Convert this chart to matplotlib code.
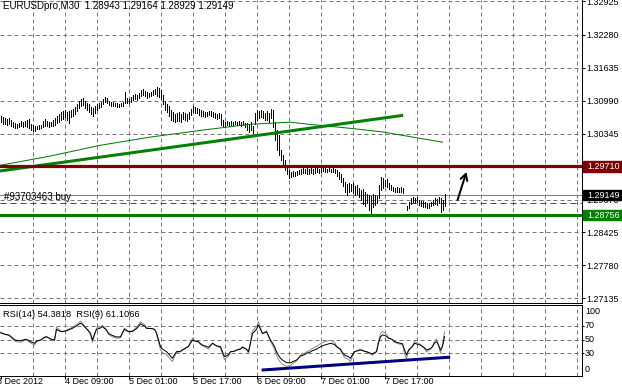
import numpy as np
import matplotlib

matplotlib.use('Agg')  # no display
import matplotlib.pyplot as plt
import matplotlib.transforms as mtransforms
from matplotlib.patches import Rectangle

plt.rcParams['font.family'] = ['Liberation Sans', 'DejaVu Sans']

# ---- values (M30 bars, bar 0 = left edge) ----
nan = np.nan
bar_high = [
    1.3069, 1.3067, 1.3065, 1.3063, 1.3065, 1.3061, 1.3057, 1.3055, 1.3053, 1.3055, 1.3059, 1.3057, 1.3059, 1.3061, 1.3063, 1.3053,
    1.3051, 1.3049, 1.3049, 1.3051, 1.3051, 1.3059, 1.3063, 1.3059, 1.3057, 1.3057, 1.3061, 1.3065, 1.3069, 1.3073, 1.3077, 1.3079,
    1.3080, 1.3077, 1.3079, 1.3080, 1.3082, 1.3086, 1.3092, 1.3098, 1.3102, 1.3104, 1.3098, 1.3094, 1.3092, 1.3086, 1.3084, 1.3088,
    1.3092, 1.3094, 1.3096, 1.3102, 1.3106, 1.3104, 1.3098, 1.3096, 1.3096, 1.3094, 1.3094, 1.3092, 1.3094, 1.3096, 1.3116, 1.3104,
    1.3102, 1.3106, 1.3110, 1.3112, 1.3110, 1.3114, 1.3119, 1.3121, 1.3118, 1.3116, 1.3114, 1.3116, 1.3119, 1.3121, 1.3125, 1.3123,
    1.3119, 1.3110, 1.3098, 1.3092, 1.3088, 1.3080, 1.3077, 1.3073, 1.3075, 1.3077, 1.3073, 1.3077, 1.3075, 1.3073, 1.3077, 1.3082,
    1.3088, 1.3086, 1.3084, 1.3082, 1.3080, 1.3079, 1.3077, 1.3077, 1.3079, 1.3079, 1.3077, 1.3075, 1.3073, 1.3075, 1.3073, 1.3061,
    1.3057, 1.3059, 1.3057, 1.3059, 1.3057, 1.3059, 1.3057, 1.3059, 1.3057, 1.3059, 1.3055, 1.3055, 1.3053, 1.3057, 1.3049, 1.3075,
    1.3080, 1.3079, 1.3080, 1.3079, 1.3075, 1.3079, 1.3075, 1.3082, 1.3080, 1.3057, 1.3042, 1.3032, 1.3003, 1.2993, 1.2983, 1.2971,
    1.2964, 1.2960, 1.2962, 1.2960, 1.2962, 1.2964, 1.2966, 1.2968, 1.2966, 1.2968, 1.2966, 1.2968, 1.2966, 1.2968, 1.2968, 1.2966,
    1.2968, 1.2968, 1.2968, 1.2966, 1.2968, 1.2966, 1.2968, 1.2966, 1.2964, 1.2960, 1.2956, 1.2948, 1.2940, 1.2936, 1.2938, 1.2936,
    1.2938, 1.2932, 1.2934, 1.2928, 1.2925, 1.2927, 1.2921, 1.2917, 1.2915, 1.2913, 1.2917, 1.2915, 1.2913, 1.2934, 1.2950, 1.2948,
    1.2944, 1.2946, 1.2938, 1.2934, 1.2930, 1.2929, 1.2930, 1.2929, 1.2930, 1.2929, nan, 1.2893, 1.2901, 1.2909, 1.2911, 1.2909,
    1.2911, 1.2905, 1.2903, 1.2903, 1.2901, 1.2899, 1.2899, 1.2901, 1.2905, 1.2909, 1.2907, 1.2911, 1.2909, 1.2905, 1.29164,
]
bar_low = [
    1.3057, 1.3053, 1.3053, 1.3051, 1.3053, 1.3049, 1.3047, 1.3045, 1.3045, 1.3047, 1.3049, 1.3047, 1.3049, 1.3047, 1.3045, 1.3042,
    1.3040, 1.3040, 1.3043, 1.3043, 1.3045, 1.3047, 1.3049, 1.3049, 1.3047, 1.3049, 1.3049, 1.3051, 1.3055, 1.3057, 1.3061, 1.3063,
    1.3067, 1.3061, 1.3055, 1.3067, 1.3069, 1.3073, 1.3079, 1.3084, 1.3088, 1.3090, 1.3084, 1.3080, 1.3077, 1.3073, 1.3069, 1.3075,
    1.3080, 1.3084, 1.3086, 1.3092, 1.3096, 1.3094, 1.3090, 1.3088, 1.3088, 1.3088, 1.3086, 1.3086, 1.3088, 1.3088, 1.3094, 1.3094,
    1.3094, 1.3096, 1.3100, 1.3102, 1.3100, 1.3104, 1.3108, 1.3110, 1.3108, 1.3104, 1.3106, 1.3108, 1.3110, 1.3112, 1.3108, 1.3106,
    1.3102, 1.3092, 1.3080, 1.3077, 1.3069, 1.3061, 1.3059, 1.3057, 1.3059, 1.3059, 1.3057, 1.3063, 1.3061, 1.3059, 1.3063, 1.3071,
    1.3077, 1.3075, 1.3075, 1.3071, 1.3069, 1.3069, 1.3067, 1.3069, 1.3071, 1.3069, 1.3067, 1.3065, 1.3063, 1.3065, 1.3051, 1.3049,
    1.3049, 1.3051, 1.3049, 1.3051, 1.3051, 1.3053, 1.3051, 1.3051, 1.3049, 1.3051, 1.3047, 1.3042, 1.3038, 1.3042, 1.3036, 1.3053,
    1.3061, 1.3065, 1.3067, 1.3065, 1.3061, 1.3061, 1.3057, 1.3065, 1.3047, 1.3022, 1.3003, 1.2993, 1.2983, 1.2973, 1.2964, 1.2956,
    1.2948, 1.2950, 1.2952, 1.2952, 1.2954, 1.2956, 1.2956, 1.2958, 1.2958, 1.2956, 1.2956, 1.2958, 1.2956, 1.2958, 1.2960, 1.2958,
    1.2960, 1.2962, 1.2960, 1.2960, 1.2962, 1.2960, 1.2960, 1.2958, 1.2952, 1.2946, 1.2940, 1.2932, 1.2921, 1.2915, 1.2921, 1.2923,
    1.2919, 1.2915, 1.2917, 1.2911, 1.2905, 1.2897, 1.2893, 1.2899, 1.2886, 1.2876, 1.2891, 1.2895, 1.2899, 1.2909, 1.2925, 1.2929,
    1.2932, 1.2930, 1.2927, 1.2925, 1.2923, 1.2921, 1.2921, 1.2921, 1.2921, 1.2919, nan, 1.2886, 1.2889, 1.2897, 1.2901, 1.2899,
    1.2901, 1.2895, 1.2893, 1.2891, 1.2891, 1.2889, 1.2889, 1.2893, 1.2895, 1.2897, 1.2895, 1.2899, 1.2882, 1.2886, 1.28929,
]

# moving average (thin green) and hand-drawn objects
ma_bars = [0, 25, 50, 75, 100, 125, 145, 154, 175, 191, 206, 221]
ma_price = [1.2973, 1.2991, 1.3012, 1.3028, 1.3041, 1.3053, 1.3057, 1.3053, 1.3045, 1.3038, 1.3028, 1.3018]
trend_bars = [0, 200.6]
trend_price = [1.2962, 1.3070]
resistance = 1.29710
support = 1.28756
bid = 1.29149
order_price = 1.2899
arrow_bars = [228.1, 233.4]
arrow_price = [1.2900, 1.2965]

# RSI panel
rsi_bars = [0, 2, 4, 5, 7, 8, 10, 12, 13, 15, 17, 18, 20, 22, 23, 25, 27, 28, 30, 31, 33, 36, 38, 40, 41, 42, 44, 45,
            46, 47, 48, 50, 51, 53, 54, 56, 58, 60, 61, 62, 64, 66, 68, 70, 72, 73, 76, 77, 78, 80, 81, 83, 85, 86,
            87, 88, 90, 91, 94, 96, 97, 99, 100, 101, 103, 104, 106, 108, 110, 111, 112, 114, 115, 117, 118, 120, 121,
            123, 124, 125, 126, 128, 129, 130, 131, 132, 133, 135, 136, 137, 138, 139, 140, 141, 143, 145, 146, 148,
            150, 152, 153, 155, 156, 158, 160, 162, 165, 167, 168, 170, 171, 172, 174, 175, 176, 177, 180, 182, 183,
            185, 186, 187, 188, 189, 190, 191, 193, 194, 196, 197, 200, 201, 202, 203, 204, 206, 207, 210, 212, 213,
            215, 216, 217, 218, 219, 220, 221, 222]
rsi14 = [60, 58, 57, 55, 50, 49, 48.5, 50, 50.5, 47, 44.6, 48, 49.5, 53, 54, 51, 49.5, 65, 62, 61.6, 63, 66.6, 70, 74, 72, 69, 63, 59,
         49.5, 58, 65, 67, 69, 64, 59, 56, 54, 54, 60, 65, 61.6, 62, 66, 73, 70, 66.6, 66, 65, 60, 39.7, 36, 32.4, 26, 22.7,
         28, 32.4, 33, 34.8, 40, 49.5, 48, 47, 44, 42, 40, 38.8, 44.6, 41, 39.7, 32, 25, 28, 32.4, 33, 34.8, 36, 38.8,
         36, 32.4, 45, 59, 65, 71.5, 65, 59, 60, 61.6, 49.5, 45, 40, 32.4, 27, 22.7, 20, 16.3, 16, 17.7, 20,
         26, 28, 30, 32, 33.8, 36, 39.7, 42, 44.6, 43, 39.7, 35.9, 31, 27.5, 25, 22.7, 28, 32.4, 34.8, 33, 32.4,
         30, 29, 31, 32.4, 45, 54, 57, 55, 52, 50, 47, 44.6, 44, 35, 27.5, 34.8, 40, 44.6, 42, 38, 34.8,
         37, 39.7, 45, 47, 42, 34.8, 40, 54.38]
rsi9 = [61, 58, 56, 54, 48, 47, 46, 49, 50, 45, 42, 47, 49, 54, 55, 51, 48, 68, 63, 62, 64, 68, 72, 77, 74, 70, 62, 57,
        46, 57, 67, 69, 71, 65, 58, 54, 52, 53, 61, 67, 62, 63, 68, 76, 72, 67, 66, 65, 58, 35, 31, 28, 21, 18,
        25, 31, 32, 35, 41, 52, 49, 47, 43, 41, 38, 36, 45, 40, 38, 29, 21, 26, 32, 33, 35, 37, 40,
        36, 30, 47, 63, 69, 76, 67, 59, 61, 63, 47, 42, 36, 27, 21, 17, 14, 11, 12, 15, 19,
        27, 30, 32, 35, 37, 40, 44, 47, 49, 46, 41, 35, 29, 24, 21, 18, 26, 32, 36, 33, 32,
        29, 27, 30, 32, 48, 59, 62, 58, 53, 50, 46, 43, 43, 30, 22, 33, 41, 47, 43, 37, 32,
        36, 40, 48, 51, 42, 30, 42, 61.11]
rsi_trend_bars = [131.3, 224.1]
rsi_trend = [5.6, 24.2]

price_ticks = [1.32925, 1.32280, 1.31635, 1.30990, 1.30345, 1.29070, 1.28425, 1.27780, 1.27135]
price_grid = [1.32925, 1.32280, 1.31635, 1.30990, 1.30345, 1.29700, 1.29055, 1.28425, 1.27780, 1.27135]
rsi_levels = [70, 50, 30]
rsi_labels = ['100', '70', '50', '30', '0']
time_bars = [0, 32, 64, 96, 128, 160, 192]
time_labels = ['3 Dec 2012', '4 Dec 09:00', '5 Dec 01:00', '5 Dec 17:00',
               '6 Dec 09:00', '7 Dec 01:00', '7 Dec 17:00']
title = 'EURUSDpro,M30  1.28943 1.29164 1.28929 1.29149'
rsi_title = 'RSI(14) 54.3818  RSI(9) 61.1066'

# ---- layout in pixels, like the terminal window ----
W, H = 622, 391
PX = 0.72  # one pixel in points
FS = 6.5
GRID = dict(color='#787878', lw=PX, linestyle=(0, (4, 3)), zorder=0.5)

fig = plt.figure(figsize=(W / 100, H / 100), dpi=100)
fig.patch.set_facecolor('white')
ax = fig.add_axes([0, (H - 302.7) / H, 581.5 / W, 302.7 / H])
ar = fig.add_axes([0, (H - 375.7) / H, 581.5 / W, 70.7 / H])

xlim = (-0.25, 290.5)
ylim = (1.27048, 1.32954)
for a in (ax, ar):
    a.set_xlim(*xlim)
    a.spines['left'].set_visible(False)
    a.spines['top'].set_visible(a is ar)
    for s in ('right', 'bottom', 'top'):
        a.spines[s].set_linewidth(PX)
    for k in range(1, 19):
        a.axvline(16 * k, **GRID)
ax.set_ylim(*ylim)
ar.set_ylim(-2.8, 100.7)

# ---- price panel ----
for p in price_grid:
    ax.axhline(p, **GRID)

bars = np.arange(len(bar_high))
ax.vlines(bars, bar_low, bar_high, color='black', lw=PX, zorder=3, antialiased=False)
ax.plot(ma_bars, ma_price, color='#007800', lw=PX, zorder=4)
ax.plot(trend_bars, trend_price, color='#008000', lw=3 * PX, zorder=4)
ax.axhline(resistance, color='#800000', lw=3.2 * PX, zorder=4)
ax.axhline(support, color='#008000', lw=3 * PX, zorder=4)
ax.axhline(bid, color='#808080', lw=PX, zorder=2)
ax.axhline(order_price, color='#008000', lw=PX, linestyle=(0, (6, 4)), zorder=2)
ax.annotate('', xy=(arrow_bars[1], arrow_price[1]), xytext=(arrow_bars[0], arrow_price[0]),
            arrowprops=dict(arrowstyle='->,head_length=0.45,head_width=0.25', color='black', lw=2 * PX),
            zorder=5)
ax.text(1.5, order_price + 1.5 / 5125, '#93703463 buy', fontsize=7, va='bottom', ha='left', zorder=6)

ax.set_xticks([])
ax.yaxis.tick_right()
ax.set_yticks(price_ticks)
ax.set_yticklabels([f'{p:.5f}' for p in price_ticks])
ax.tick_params(axis='y', length=3 * PX, width=PX, pad=2 * PX, labelsize=FS)

# coloured price labels on the right scale
blend = mtransforms.blended_transform_factory(fig.transFigure, ax.transData)
ppx = 302.7 / (ylim[1] - ylim[0])


def price_box(price, color):
    h = 10.5 / ppx
    ax.add_patch(Rectangle((583.3 / W, price - h / 2), 1 - 583.3 / W, h, transform=blend,
                           color=color, clip_on=False, zorder=10))
    ax.text(587 / W, price, f'{price:.5f}', transform=blend, color='white', fontsize=FS,
            va='center', ha='left', zorder=11, clip_on=False)


price_box(resistance, '#800000')
price_box(bid, 'black')
price_box(support, '#008000')

# ---- RSI panel ----
for lv in rsi_levels:
    ar.axhline(lv, **GRID)
ar.plot(rsi_bars, rsi9, color='#8c8c8c', lw=PX, zorder=3)
ar.plot(rsi_bars, rsi14, color='black', lw=PX, zorder=4)
ar.plot(rsi_trend_bars, rsi_trend, color='#000080', lw=3 * PX, zorder=5, clip_on=False)

ar.yaxis.tick_right()
ar.set_yticks(rsi_levels)
ar.set_yticklabels([])
ar.tick_params(axis='y', length=2 * PX, width=PX)
ar.set_xticks(time_bars)
ar.set_xticklabels([])
ar.tick_params(axis='x', length=3 * PX, width=PX)

# ---- texts ----
fig.text(3 / W, 1 - 6.3 / H, title, fontsize=7, va='center', ha='left')
fig.text(3 / W, 1 - 314.5 / H, rsi_title, fontsize=6.7, va='center', ha='left')
for lab, ypx in zip(rsi_labels, [311.7, 326, 340, 353.3, 370]):
    fig.text(585 / W, 1 - ypx / H, lab, fontsize=FS, va='center', ha='left')

tblend = mtransforms.blended_transform_factory(ar.transData, fig.transFigure)
for i, (b, lab) in enumerate(zip(time_bars, time_labels)):
    xoff = -1.6 if i == 0 else 0.3
    ar.text(b + xoff, 1 - 382 / H, lab, transform=tblend, fontsize=FS, va='center', ha='left',
            clip_on=False)

fig.savefig('out.png', dpi=100)
plt.close()
